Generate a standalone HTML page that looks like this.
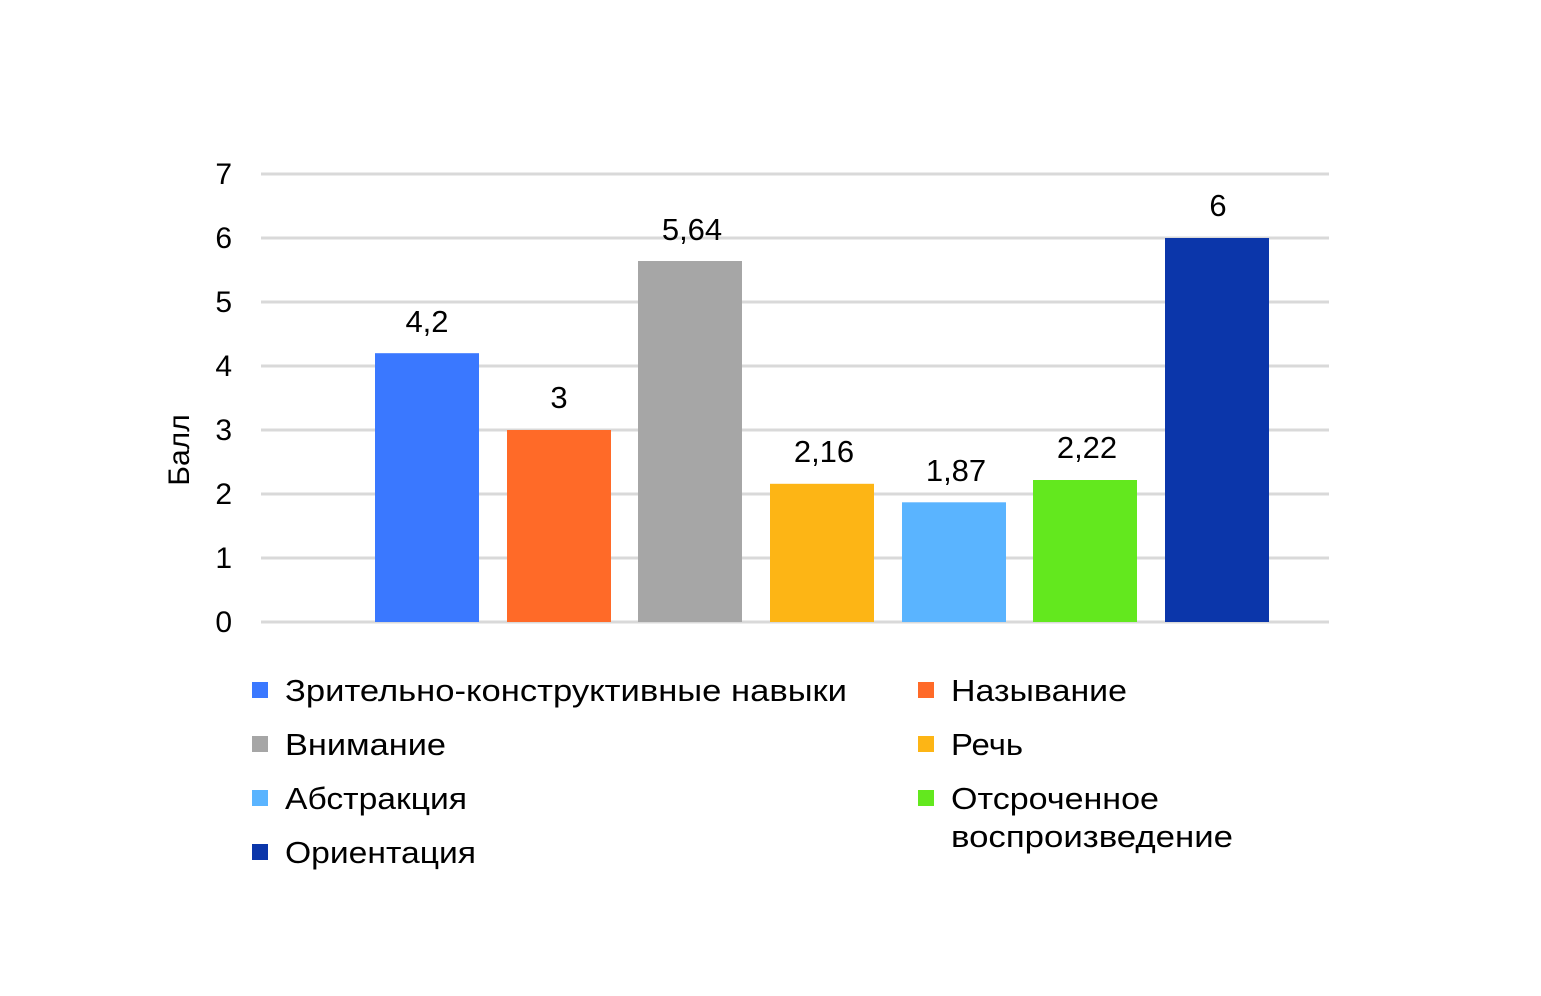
<!DOCTYPE html>
<html><head><meta charset="utf-8"><style>
html,body{margin:0;padding:0;background:#fff;}
svg text{font-family:"Liberation Sans","DejaVu Sans",sans-serif;fill:#000;}
</style></head><body>
<svg width="1541" height="991" xmlns="http://www.w3.org/2000/svg">
<g stroke="#d9d9d9" stroke-width="3">
<line x1="261" x2="1329" y1="174" y2="174"/>
<line x1="261" x2="1329" y1="238" y2="238"/>
<line x1="261" x2="1329" y1="302" y2="302"/>
<line x1="261" x2="1329" y1="366" y2="366"/>
<line x1="261" x2="1329" y1="430" y2="430"/>
<line x1="261" x2="1329" y1="494" y2="494"/>
<line x1="261" x2="1329" y1="558" y2="558"/>
<line x1="261" x2="1329" y1="622" y2="622"/>
</g>
<g font-size="30" text-anchor="end">
<text x="232" y="184">7</text><text x="232" y="248">6</text><text x="232" y="312">5</text>
<text x="232" y="376">4</text><text x="232" y="440">3</text><text x="232" y="504">2</text>
<text x="232" y="568">1</text><text x="232" y="632">0</text>
</g>
<text font-size="30" transform="translate(189,450) rotate(-90)" text-anchor="middle">Балл</text>
<rect x="375" y="353.2" width="104" height="268.8" fill="#3A78FF"/>
<rect x="507" y="430" width="104" height="192" fill="#FF6A28"/>
<rect x="638" y="261" width="104" height="361" fill="#A6A6A6"/>
<rect x="770" y="483.8" width="104" height="138.2" fill="#FDB515"/>
<rect x="902" y="502.3" width="104" height="119.7" fill="#5AB4FF"/>
<rect x="1033" y="480" width="104" height="142" fill="#63E81E"/>
<rect x="1165" y="238" width="104" height="384" fill="#0B36AA"/>
<g font-size="31" text-anchor="middle">
<text x="427" y="332">4,2</text><text x="559" y="408">3</text><text x="692" y="240">5,64</text>
<text x="824" y="462">2,16</text><text x="956" y="481">1,87</text><text x="1087" y="458">2,22</text>
<text x="1218" y="216">6</text>
</g>
<g font-size="31">
<rect x="252" y="682" width="16" height="16" fill="#3A78FF"/><text x="285" y="701" textLength="562" lengthAdjust="spacingAndGlyphs">Зрительно-конструктивные навыки</text>
<rect x="252" y="736" width="16" height="16" fill="#A6A6A6"/><text x="285" y="755" textLength="161" lengthAdjust="spacingAndGlyphs">Внимание</text>
<rect x="252" y="790" width="16" height="16" fill="#5AB4FF"/><text x="285" y="809" textLength="182" lengthAdjust="spacingAndGlyphs">Абстракция</text>
<rect x="252" y="844" width="16" height="16" fill="#0B36AA"/><text x="285" y="863" textLength="191" lengthAdjust="spacingAndGlyphs">Ориентация</text>
<rect x="918" y="682" width="16" height="16" fill="#FF6A28"/><text x="951" y="701" textLength="176" lengthAdjust="spacingAndGlyphs">Называние</text>
<rect x="918" y="736" width="16" height="16" fill="#FDB515"/><text x="951" y="755" textLength="72" lengthAdjust="spacingAndGlyphs">Речь</text>
<rect x="918" y="790" width="16" height="16" fill="#63E81E"/><text x="951" y="809" textLength="208" lengthAdjust="spacingAndGlyphs">Отсроченное</text>
<text x="951" y="847" textLength="282" lengthAdjust="spacingAndGlyphs">воспроизведение</text>
</g>
</svg>
</body></html>
